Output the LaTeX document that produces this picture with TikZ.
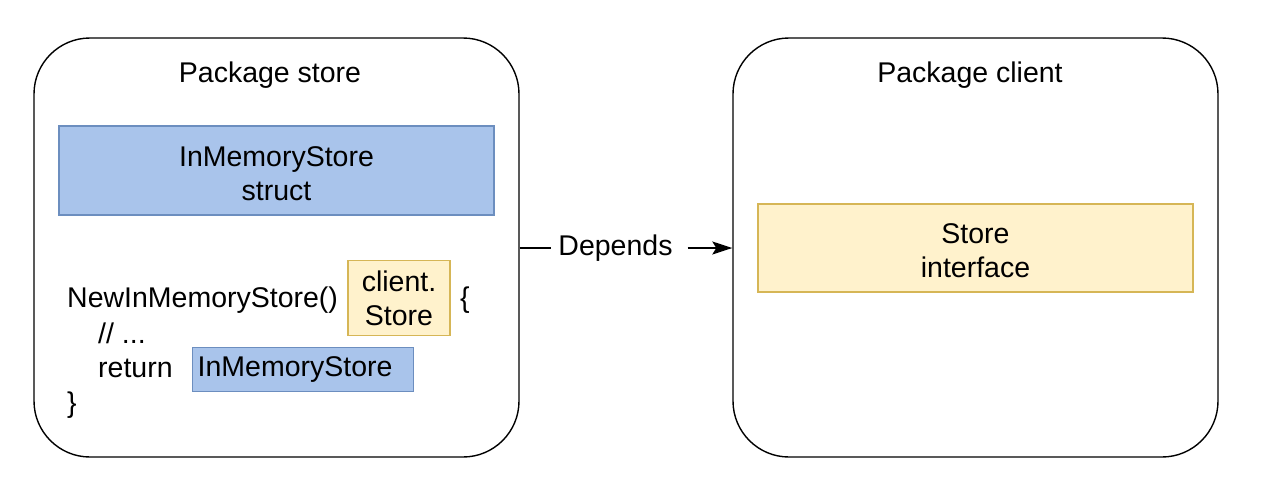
\documentclass[tikz,border=0pt]{standalone}
\usepackage{fontspec}
\setmainfont{Liberation Sans}
\usetikzlibrary{arrows.meta}

\definecolor{structfill}{HTML}{A9C4EB}
\definecolor{structline}{HTML}{6C8EBF}
\definecolor{ifacefill}{HTML}{FFF2CC}
\definecolor{ifaceline}{HTML}{D6B656}

\tikzset{
  pkg/.style={draw=black, line width=1.4pt, rounded corners=56pt,
    minimum width=485pt, minimum height=419pt, inner sep=0pt},
  structbox/.style={draw=structline, fill=structfill, line width=1.4pt},
  ifacebox/.style={draw=ifaceline, fill=ifacefill, line width=1.4pt},
  txt/.style={inner sep=0pt, font=\fontsize{28.5}{34}\selectfont},
  codeline/.style={txt, anchor=base west},
}

\begin{document}
\begin{tikzpicture}[x=1pt, y=-1pt]
\useasboundingbox (0,0) rectangle (1280,488);

% packages
\node[pkg] (store) at (276.5,247.5) {};
\node[pkg] (client) at (975.5,247.5) {};
\node[txt, anchor=base] (storetitle) at (270,82) {Package store};
\node[txt, anchor=base] (clienttitle) at (970,82) {Package client};

% package store contents
\node[structbox, minimum width=435pt, minimum height=89pt]
  (structnode) at (276.5,170.5) {};
\node[txt, align=center] (structtext) at ([yshift=-3pt]structnode.center)
  {InMemoryStore\\struct};

\node[codeline] (ctor) at (67,307) {NewInMemoryStore()};
\node[ifacebox, txt, minimum width=102pt, minimum height=75pt, align=center]
  (rettype) at (399,298) {client.\\Store};
\node[codeline] (openbrace) at (460,307) {\{};
\node[codeline] (comment) at (98,343) {// ...};
\node[codeline] (ret) at (98,377) {return};
\node[structbox, txt, anchor=north west, minimum height=44pt,
  text width=211pt, inner xsep=5pt, inner ysep=0pt, align=left]
  (retval) at (192,347) {InMemoryStore};
\node[codeline] (closebrace) at (67,412) {\}};

% package client contents
\node[ifacebox, minimum width=435pt, minimum height=88pt]
  (iface) at (975.5,248) {};
\node[txt, align=center] (ifacetext) at ([yshift=-3pt]iface.center)
  {Store\\interface};

% dependency
\node[txt] (dep) at (615.5,248) {Depends};
\draw[line width=1.4pt] (store.east |- dep) -- ([xshift=-7pt]dep.west);
\draw[line width=1.4pt, -{Stealth[length=20pt, width=13pt, inset=4pt]}]
  ([xshift=15pt]dep.east) -- (client.west |- dep);
\end{tikzpicture}
\end{document}
